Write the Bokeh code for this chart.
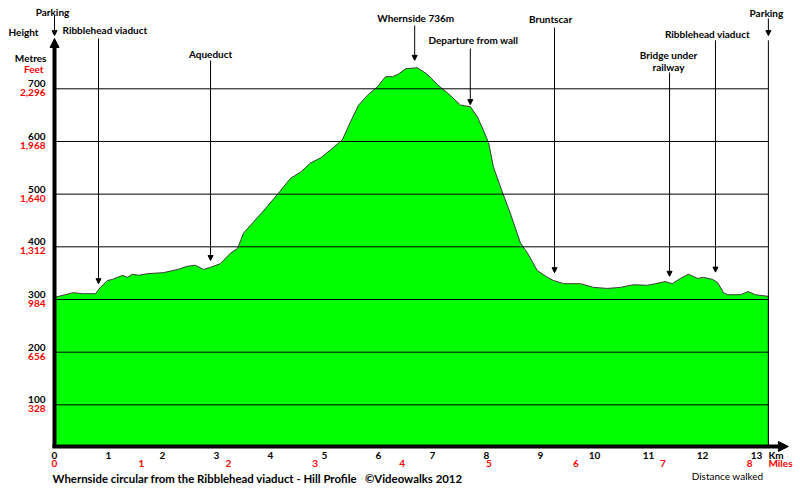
from bokeh.plotting import figure
from bokeh.models import Arrow, NormalHead, ColumnDataSource, Range1d
from bokeh.embed import file_html
from bokeh.resources import INLINE
from bokeh.core.properties import value

# ---------------- DATA ----------------
distance_km = [0.00, 0.35, 0.52, 0.76, 0.85, 0.98, 1.07, 1.17, 1.26, 1.35, 1.44, 1.56,
               1.72, 2.02, 2.28, 2.46, 2.61, 2.76, 2.89, 3.07, 3.26, 3.39, 3.50, 3.63,
               3.85, 4.15, 4.37, 4.56, 4.74, 4.93, 5.11, 5.33, 5.48, 5.63, 5.80, 5.98,
               6.13, 6.26, 6.37, 6.50, 6.72, 6.91, 7.09, 7.28, 7.52, 7.70, 7.83, 7.94,
               8.04, 8.13, 8.30, 8.44, 8.63, 8.76, 8.94, 9.13, 9.24, 9.43, 9.74, 9.98,
               10.24, 10.48, 10.72, 10.98, 11.13, 11.31, 11.44, 11.59, 11.74, 11.91,
               12.02, 12.19, 12.28, 12.39, 12.46, 12.70, 12.85, 12.98, 13.22]
elevation_m = [304, 313, 311, 311, 323, 336, 338, 342, 346, 342, 348, 346,
               349, 351, 357, 363, 365, 357, 361, 368, 388, 397, 426, 441,
               466, 502, 530, 542, 559, 569, 584, 603, 637, 669, 688, 704,
               723, 723, 728, 738, 740, 727, 708, 692, 669, 666, 647, 622,
               597, 551, 502, 464, 407, 388, 355, 342, 336, 330, 330, 323,
               321, 323, 328, 327, 330, 334, 330, 340, 348, 340,
               342, 338, 332, 313, 309, 309, 315, 309, 306]

metre_ticks = [100, 200, 300, 400, 500, 600, 700]
feet_labels = ["328", "656", "984", "1,312", "1,640", "1,968", "2,296"]
km_ticks = list(range(0, 14))
mile_ticks = list(range(0, 9))
KM_PER_MILE = 1.609344
route_length_km = 13.22

landmark_names = ["Parking", "Ribblehead viaduct", "Aqueduct", "Whernside 736m",
                  "Departure from wall", "Bruntscar", "Bridge under\nrailway",
                  "Ribblehead viaduct", "Parking"]
landmark_km = [0.0, 0.815, 2.89, 6.67, 7.70, 9.26, 11.39, 12.24, 13.22]

title_text = ("Whernside circular from the Ribblehead viaduct - Hill Profile"
              "\u00a0\u00a0\u00a0\u00a9Videowalks 2012")

# ---------------- LAYOUT ----------------
W, H = 800, 491
X0_PX, PX_PER_KM = 54, 54.0          # screen position of 0 km, scale
Y0_PX, PX_PER_M = 457, 0.5267        # screen position of 0 m, scale
AXIS_BASE = 21                       # metres, where the x axis is drawn
label_y_m = [846, 811, 766, 835, 792, 832, 765, 804, 843]
label_dx_px = [-2, 6.5, 0, 1, 3, -4, -1, -8, -2]
arrow_top_m = [839, 795.5, 753.7, 820, 776.5, 816.4, 731, 792, 833.5]
arrow_tip_m = [801, 330, 374, 754, 670, 351, 344, 352, 801]

FONT = value("Lato")
GREEN = "#00FF00"
RED = "#FF0000"

p = figure(width=W, height=H,
           x_range=Range1d(-X0_PX / PX_PER_KM, (W - X0_PX) / PX_PER_KM),
           y_range=Range1d((Y0_PX - H) / PX_PER_M, Y0_PX / PX_PER_M),
           output_backend="svg", toolbar_location=None,
           x_axis_type=None, y_axis_type=None, min_border=0, title=None)
p.outline_line_color = None
p.background_fill_color = "white"
p.border_fill_color = "white"

# profile area
xs = list(distance_km) + [route_length_km, 0]
ys = list(elevation_m) + [AXIS_BASE, AXIS_BASE]
p.patch(x=xs, y=ys, fill_color=GREEN, line_color="#3a3a3a", line_width=1)

# horizontal gridlines
p.segment(x0=[0] * len(metre_ticks), y0=metre_ticks,
          x1=[route_length_km] * len(metre_ticks), y1=metre_ticks,
          line_color="black", line_width=1)

# right boundary line
p.segment(x0=[route_length_km], y0=[AXIS_BASE], x1=[route_length_km], y1=[792],
          line_color="black", line_width=1)

# landmark arrows
lm_src = ColumnDataSource(dict(x0=landmark_km, y0=arrow_top_m, x1=landmark_km, y1=arrow_tip_m))
p.add_layout(Arrow(end=NormalHead(size=5, fill_color="black", line_color="black", line_width=1),
                   x_start="x0", y_start="y0", x_end="x1", y_end="y1",
                   line_color="black", line_width=1, source=lm_src))

# axes arrows
p.add_layout(Arrow(end=NormalHead(size=9, fill_color="black", line_color="black"),
                   x_start=0, y_start=AXIS_BASE, x_end=0, y_end=795.5,
                   line_color="black", line_width=4))
p.add_layout(Arrow(end=NormalHead(size=10, fill_color="black", line_color="black"),
                   x_start=-0.04, y_start=AXIS_BASE, x_end=13.59, y_end=AXIS_BASE,
                   line_color="black", line_width=4))

# landmark labels
lx, ly, lt, ldx, ldy = [], [], [], [], []
for name, km, y, dx in zip(landmark_names, landmark_km, label_y_m, label_dx_px):
    for j, line in enumerate(name.split("\n")):
        lx.append(km); ly.append(y); lt.append(line); ldx.append(dx); ldy.append(j * 12)
p.text(x="x", y="y", text="t", x_offset="dx", y_offset="dy",
       source=ColumnDataSource(dict(x=lx, y=ly, t=lt, dx=ldx, dy=ldy)),
       text_font=FONT, text_font_size="10px", text_font_style="bold",
       text_align="center", text_baseline="middle", text_color="black")

# y tick labels
p.text(x=[0] * len(metre_ticks), y=metre_ticks, text=[str(m) for m in metre_ticks],
       x_offset=-9, y_offset=-5, text_font=FONT, text_font_size="10px",
       text_font_style="bold", text_align="right", text_baseline="middle", text_color="black")
p.text(x=[0] * len(metre_ticks), y=metre_ticks, text=feet_labels,
       x_offset=-9, y_offset=4, text_font=FONT, text_font_size="10px",
       text_font_style="bold", text_align="right", text_baseline="middle", text_color=RED)

# y axis titles
p.text(x=[0], y=[807], text=["Height"], x_offset=-46, text_font=FONT, text_font_size="10px",
       text_font_style="bold", text_align="left", text_baseline="middle", text_color="black")
p.text(x=[0], y=[759.4], text=["Metres"], x_offset=-8, text_font=FONT, text_font_size="10px",
       text_font_style="bold", text_align="right", text_baseline="middle", text_color="black")
p.text(x=[0], y=[738.5], text=["Feet"], x_offset=-11, text_font=FONT, text_font_size="10px",
       text_font_style="bold", text_align="right", text_baseline="middle", text_color=RED)

# x tick labels
p.text(x=km_ticks, y=[AXIS_BASE] * len(km_ticks), text=[str(k) for k in km_ticks],
       y_offset=9, text_font=FONT, text_font_size="10px", text_font_style="bold",
       text_align="center", text_baseline="middle", text_color="black")
p.text(x=[m * KM_PER_MILE for m in mile_ticks], y=[AXIS_BASE] * len(mile_ticks),
       text=[str(m) for m in mile_ticks], y_offset=17, text_font=FONT, text_font_size="10px",
       text_font_style="bold", text_align="center", text_baseline="middle", text_color=RED)
p.text(x=[route_length_km], y=[AXIS_BASE], text=["Km"], y_offset=9, text_font=FONT,
       text_font_size="10px", text_font_style="bold", text_align="left",
       text_baseline="middle", text_color="black")
p.text(x=[route_length_km], y=[AXIS_BASE], text=["Miles"], y_offset=17, text_font=FONT,
       text_font_size="10px", text_font_style="bold", text_align="left",
       text_baseline="middle", text_color=RED)
p.text(x=[route_length_km], y=[AXIS_BASE], text=["Distance walked"], x_offset=-5, y_offset=30,
       text_font=FONT, text_font_size="10px", text_font_style="normal", text_align="right",
       text_baseline="middle", text_color="black")

# title
p.text(x=[0], y=[AXIS_BASE], text=[title_text], x_offset=-2, y_offset=32, text_font=FONT,
       text_font_size="11.4px", text_font_style="bold", text_align="left",
       text_baseline="middle", text_color="black")

open("out.html", "w").write(file_html(p, INLINE))
